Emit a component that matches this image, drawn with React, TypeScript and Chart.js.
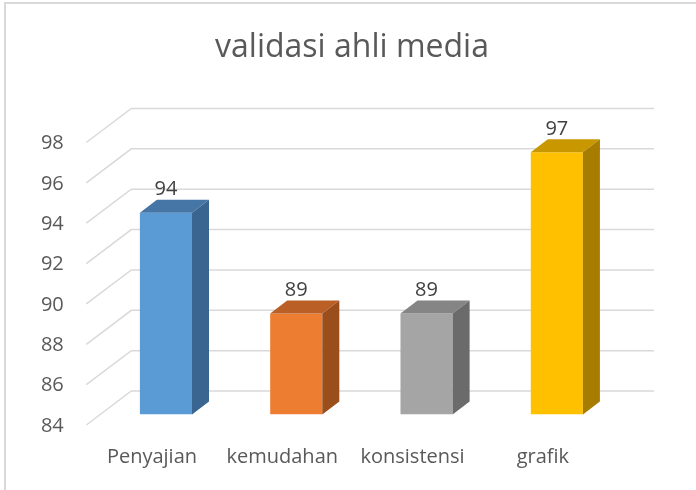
import React, { useEffect, useRef } from "react";
import { Chart, registerables } from "chart.js";

Chart.register(...registerables);

const chartTitle = "validasi ahli media";
const categories = ["Penyajian", "kemudahan", "konsistensi", "grafik"];
const scores = [94, 89, 89, 97];
const frontColors = ["#5B9BD5", "#ED7D31", "#A5A5A5", "#FFC000"];
const topColors = ["#4676A6", "#BA5F25", "#858585", "#C99700"];
const sideColors = ["#3A6590", "#9A4E1C", "#6B6B6B", "#A67D00"];
const yMin = 84;
const yMax = 98;
const yStep = 2;

const FONT = "'Open Sans', 'Noto Sans', sans-serif";
// 3D geometry (styles)
const BAR_DX = 17;
const BAR_DY = -13;
const FLOOR_FRONT_DX = -14.5;
const FLOOR_FRONT_DY = 10.5;
const WALL_DX = 30.5;
const WALL_DY = -23.5;
const WALL_RIGHT_EXTRA = 32;
const GRID_COLOR = "#D9D9D9";

const gridPlugin = {
  id: "grid3d",
  beforeDatasetsDraw(chart: any) {
    const { ctx, chartArea } = chart;
    const y = chart.scales.y;
    ctx.save();
    ctx.strokeStyle = GRID_COLOR;
    ctx.lineWidth = 1.5;
    y.ticks.forEach((t: any) => {
      const py = y.getPixelForValue(t.value);
      ctx.beginPath();
      ctx.moveTo(chartArea.left + FLOOR_FRONT_DX, py + FLOOR_FRONT_DY);
      ctx.lineTo(chartArea.left + WALL_DX, py + WALL_DY);
      ctx.lineTo(chartArea.right + WALL_RIGHT_EXTRA, py + WALL_DY);
      ctx.stroke();
    });
    ctx.restore();
  },
  afterDatasetsDraw(chart: any) {
    const { ctx } = chart;
    const meta = chart.getDatasetMeta(0);
    const baseY = chart.scales.y.getPixelForValue(yMin);
    ctx.save();
    meta.data.forEach((el: any, i: number) => {
      const l = el.x - el.width / 2;
      const r = el.x + el.width / 2;
      const top = el.y;
      const base = Math.min(el.base, baseY);
      // top face
      ctx.fillStyle = topColors[i];
      ctx.beginPath();
      ctx.moveTo(l, top);
      ctx.lineTo(r, top);
      ctx.lineTo(r + BAR_DX, top + BAR_DY);
      ctx.lineTo(l + BAR_DX, top + BAR_DY);
      ctx.closePath();
      ctx.fill();
      // side face
      ctx.fillStyle = sideColors[i];
      ctx.beginPath();
      ctx.moveTo(r, top);
      ctx.lineTo(r + BAR_DX, top + BAR_DY);
      ctx.lineTo(r + BAR_DX, base + BAR_DY);
      ctx.lineTo(r, base);
      ctx.closePath();
      ctx.fill();
      // value label
      ctx.fillStyle = "#404040";
      ctx.font = `20px ${FONT}`;
      ctx.textAlign = "center";
      ctx.textBaseline = "alphabetic";
      ctx.fillText(String(scores[i]), el.x, top - 17.5);
    });
    ctx.restore();
  },
  afterDraw(chart: any) {
    const { ctx } = chart;
    ctx.save();
    ctx.fillStyle = "#595959";
    ctx.font = `32px ${FONT}`;
    ctx.textAlign = "center";
    ctx.textBaseline = "alphabetic";
    ctx.fillText(chartTitle, 352, 56.5);
    ctx.restore();
  },
};

export default function App() {
  const canvasRef = useRef<HTMLCanvasElement | null>(null);

  useEffect(() => {
    if (!canvasRef.current) return;
    const chart = new Chart(canvasRef.current, {
      type: "bar",
      data: {
        labels: categories,
        datasets: [
          {
            data: scores,
            base: yMin,
            backgroundColor: frontColors,
            borderWidth: 0,
            barPercentage: 0.4,
            categoryPercentage: 1.0,
          },
        ],
      },
      options: {
        responsive: false,
        animation: false,
        layout: { padding: { left: 0, right: 74, top: 132, bottom: 0 } },
        plugins: {
          legend: { display: false },
          title: { display: false },
          tooltip: { enabled: false },
        },
        scales: {
          x: {
            grid: { display: false, drawTicks: false },
            border: { display: false },
            ticks: {
              padding: 31,
              labelOffset: -14,
              color: "#595959",
              font: { family: FONT, size: 20 },
              maxRotation: 0,
              autoSkip: false,
            },
            afterFit(scale: any) {
              scale.height = 75.5;
            },
          },
          y: {
            min: yMin,
            max: yMax,
            grid: { display: false, drawTicks: false },
            border: { display: false },
            ticks: {
              stepSize: yStep,
              padding: 37,
              labelOffset: 11.5,
              color: "#595959",
              font: { family: FONT, size: 20 },
            },
            afterFit(scale: any) {
              scale.width = 100.8;
            },
          },
        },
      },
      plugins: [gridPlugin],
    } as any);
    return () => chart.destroy();
  }, []);

  return (
    <div
      style={{
        position: "fixed",
        left: 0,
        top: 0,
        width: 696,
        height: 490,
        background: "#ffffff",
        overflow: "hidden",
      }}
    >
      <div
        style={{
          position: "absolute",
          left: 4,
          top: 2,
          width: 720,
          height: 520,
          borderLeft: "2px solid #D9D9D9",
          borderTop: "2px solid #D9D9D9",
        }}
      />
      <canvas
        ref={canvasRef}
        width={696}
        height={490}
        style={{ position: "absolute", left: 0, top: 0, width: 696, height: 490 }}
      />
    </div>
  );
}
